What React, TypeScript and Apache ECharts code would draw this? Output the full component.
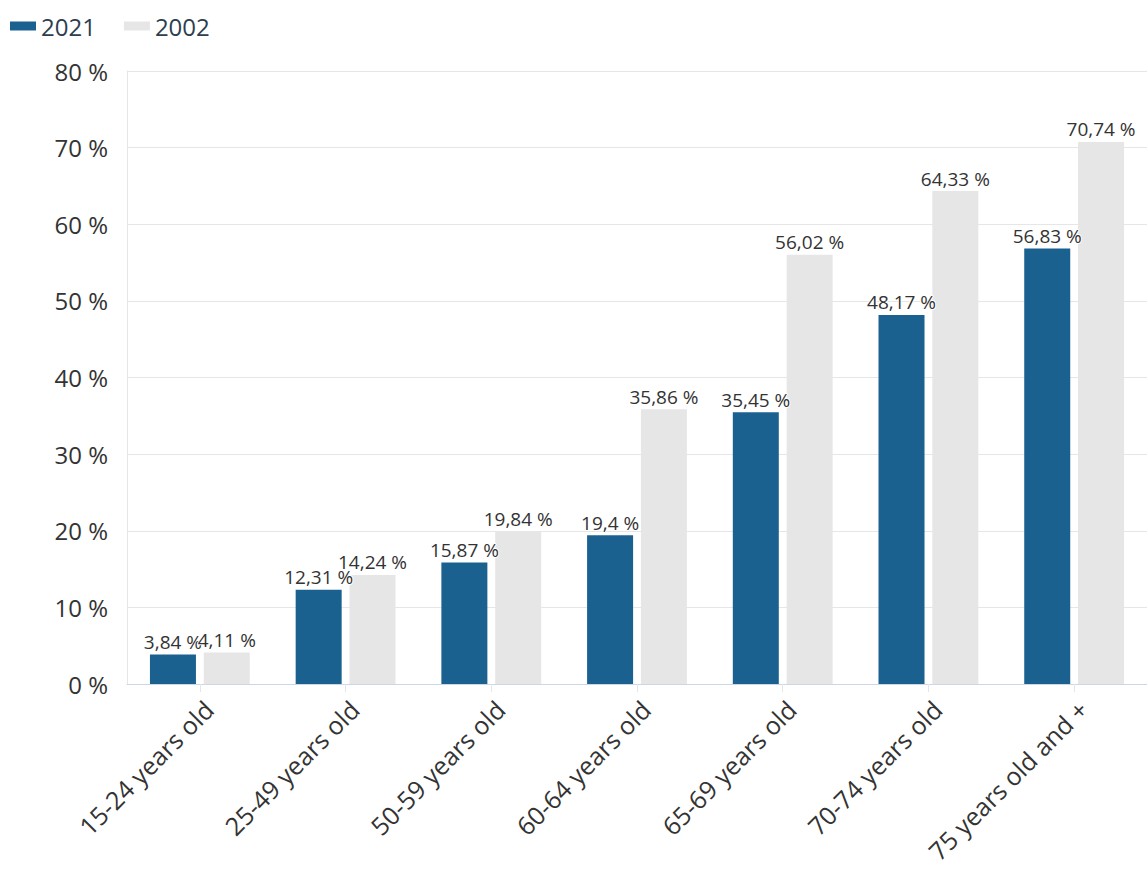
import React, { useEffect, useRef } from "react";
import * as echarts from "echarts";

const categories = [
  "15-24 years old",
  "25-49 years old",
  "50-59 years old",
  "60-64 years old",
  "65-69 years old",
  "70-74 years old",
  "75 years old and +",
];
const values2021 = [3.84, 12.31, 15.87, 19.4, 35.45, 48.17, 56.83];
const values2002 = [4.11, 14.24, 19.84, 35.86, 56.02, 64.33, 70.74];
const yTicks = [0, 10, 20, 30, 40, 50, 60, 70, 80];

const fmt = (v: number) => String(v).replace(".", ",") + " %";

export default function App() {
  const ref = useRef<HTMLDivElement>(null);
  useEffect(() => {
    if (!ref.current) return;
    const chart = echarts.init(ref.current, null, { renderer: "svg" });
    const label = {
      show: true,
      position: "top" as const,
      distance: 3,
      fontSize: 19,
      color: "#333",
      fontFamily: "Open Sans",
      textBorderColor: "#fff",
      textBorderWidth: 2,
      formatter: (p: any) => fmt(p.value),
    };
    chart.setOption({
      animation: false,
      textStyle: { fontFamily: "Open Sans" },
      legend: {
        left: 5,
        top: 9,
        itemWidth: 26,
        itemHeight: 9,
        itemGap: 28,
        icon: "rect",
        textStyle: { fontSize: 24, color: "#2c3e50", fontFamily: "Open Sans" },
        data: ["2021", "2002"],
      },
      grid: { left: 127, right: 0, top: 71, bottom: 186, containLabel: false },
      xAxis: {
        type: "category",
        data: categories,
        axisLine: { show: true, lineStyle: { color: "#ccd6eb" } },
        axisTick: { show: true, alignWithLabel: true, length: 8, lineStyle: { color: "#e6e6e6" } },
        axisLabel: {
          interval: 0,
          rotate: 45,
          fontSize: 25,
          color: "#333",
          margin: 12,
          verticalAlign: "top",
          fontFamily: "Open Sans",
        },
      },
      yAxis: {
        type: "value",
        min: yTicks[0],
        max: yTicks[yTicks.length - 1],
        interval: 10,
        axisLine: { show: true, lineStyle: { color: "#e6e6e6" } },
        axisTick: { show: false },
        splitLine: { lineStyle: { color: "#e6e6e6" } },
        axisLabel: {
          fontSize: 24,
          color: "#333",
          margin: 19,
          fontFamily: "Open Sans",
          formatter: (v: number) => v + " %",
        },
      },
      series: [
        {
          name: "2021",
          type: "bar",
          data: values2021,
          barWidth: 46,
          barGap: "17%",
          itemStyle: { color: "#1b6190" },
          label,
        },
        {
          name: "2002",
          type: "bar",
          data: values2002,
          barWidth: 46,
          itemStyle: { color: "#e6e6e6" },
          label,
        },
      ],
    });
    return () => chart.dispose();
  }, []);
  return (
    <div
      ref={ref}
      style={{ position: "fixed", left: 0, top: 0, width: 1147, height: 870, background: "#fff" }}
    />
  );
}
